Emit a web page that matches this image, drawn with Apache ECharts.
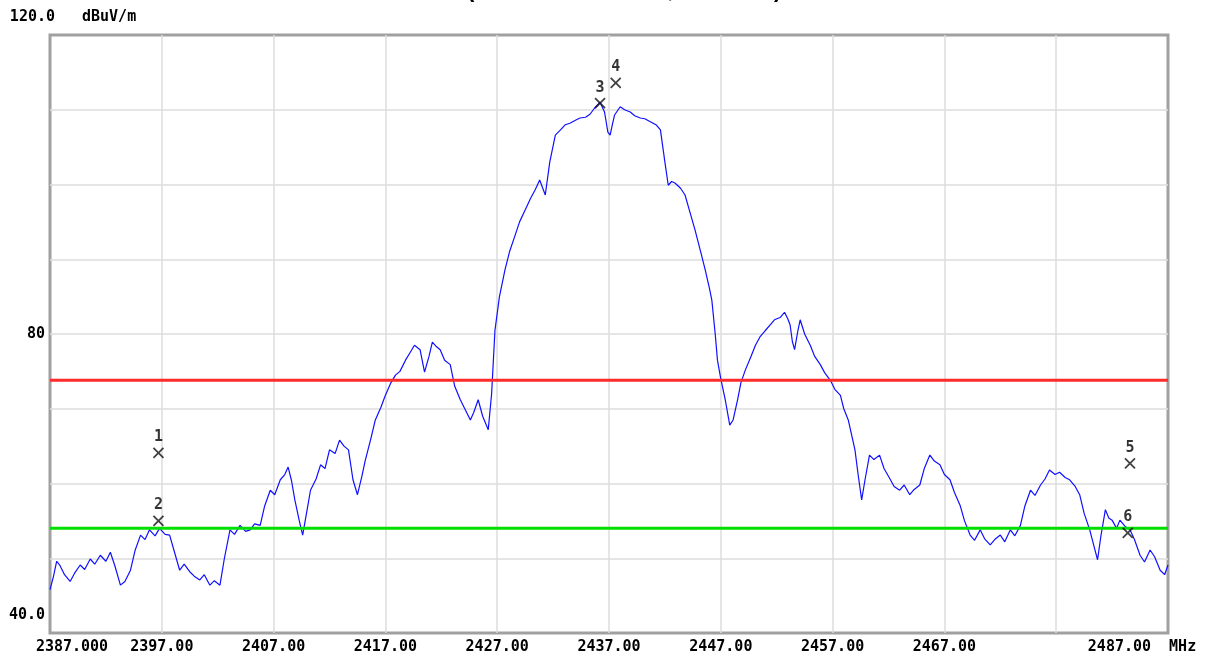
<!DOCTYPE html>
<html>
<head>
<meta charset="utf-8">
<script src="https://cdn.jsdelivr.net/npm/echarts@6/dist/echarts.min.js"></script>
<style>html,body{margin:0;padding:0;background:#fff}#c{width:1224px;height:661px}</style>
</head>
<body>
<div id="c"></div>
<script>
var titleText = '(802.11b Mode CH6, 2437MHz)';
var yUnit = 'dBuV/m';
var xUnit = 'MHz';
var xTickLabels = {2387: '2387.000', 2397: '2397.00', 2407: '2407.00', 2417: '2417.00', 2427: '2427.00', 2437: '2437.00', 2447: '2447.00', 2457: '2457.00', 2467: '2467.00', 2477: '', 2487: '2487.00'};
var yTickLabels = {120: '120.0', 80: '80', 40: '40.0'};

var traceFreq = [2387.0,2387.3,2387.6,2387.9,2388.3,2388.8,2389.2,2389.7,2390.1,2390.6,2391.0,2391.5,2392.0,2392.4,2392.8,2393.3,2393.7,2394.2,2394.6,2395.1,2395.5,2395.9,2396.4,2396.8,2397.3,2397.7,2398.1,2398.6,2399.0,2399.5,2399.9,2400.4,2400.8,2401.3,2401.7,2402.2,2402.6,2403.1,2403.5,2404.0,2404.5,2404.9,2405.3,2405.8,2406.2,2406.7,2407.1,2407.6,2408.0,2408.3,2408.6,2408.9,2409.3,2409.6,2410.0,2410.3,2410.8,2411.2,2411.6,2412.0,2412.5,2412.9,2413.3,2413.7,2414.1,2414.5,2414.9,2415.2,2415.7,2416.1,2416.6,2417.0,2417.5,2417.9,2418.3,2418.8,2419.2,2419.6,2420.1,2420.5,2420.9,2421.2,2421.5,2421.9,2422.3,2422.8,2423.2,2423.7,2424.1,2424.6,2424.9,2425.3,2425.7,2426.2,2426.5,2426.8,2427.2,2427.7,2428.1,2428.6,2429.0,2429.5,2430.0,2430.4,2430.8,2431.3,2431.7,2432.2,2432.6,2433.1,2433.5,2434.0,2434.4,2434.9,2435.3,2435.7,2436.2,2436.6,2436.9,2437.1,2437.3,2437.5,2438.0,2438.4,2438.9,2439.3,2439.8,2440.2,2440.7,2441.2,2441.6,2442.0,2442.3,2442.6,2442.9,2443.4,2443.8,2444.2,2444.7,2445.2,2445.6,2446.0,2446.2,2446.5,2446.7,2447.0,2447.4,2447.8,2448.1,2448.5,2448.8,2449.2,2449.7,2450.1,2450.5,2451.0,2451.4,2451.8,2452.3,2452.7,2453.0,2453.2,2453.4,2453.6,2453.9,2454.1,2454.5,2455.0,2455.4,2455.9,2456.3,2456.8,2457.2,2457.7,2458.0,2458.4,2458.7,2459.0,2459.3,2459.6,2459.9,2460.3,2460.7,2461.2,2461.6,2462.1,2462.5,2463.0,2463.4,2463.9,2464.3,2464.8,2465.2,2465.7,2466.1,2466.6,2467.0,2467.5,2467.9,2468.4,2468.8,2469.3,2469.7,2470.2,2470.6,2471.1,2471.5,2472.0,2472.4,2472.9,2473.3,2473.8,2474.2,2474.7,2475.1,2475.6,2476.0,2476.4,2476.9,2477.3,2477.8,2478.2,2478.7,2479.1,2479.5,2480.0,2480.4,2480.7,2481.0,2481.4,2481.7,2482.0,2482.4,2482.7,2483.2,2483.6,2484.0,2484.5,2484.9,2485.4,2485.8,2486.3,2486.7,2487.0];
var traceLevel = [45.8,47.5,49.6,49.0,47.8,46.9,48.0,49.1,48.5,49.9,49.2,50.4,49.6,50.8,49.0,46.4,46.9,48.4,51.0,53.1,52.5,53.8,53.0,54.0,53.2,53.1,51.0,48.4,49.2,48.2,47.6,47.1,47.8,46.4,47.0,46.4,50.0,53.8,53.2,54.4,53.6,53.8,54.6,54.4,57.0,59.1,58.5,60.5,61.2,62.2,60.4,57.8,55.0,53.1,56.5,59.1,60.6,62.5,62.0,64.5,64.0,65.8,65.0,64.5,60.5,58.5,61.0,63.1,66.0,68.5,70.2,71.8,73.5,74.5,75.0,76.5,77.5,78.5,77.9,74.9,77.0,78.9,78.4,77.9,76.5,75.9,73.0,71.2,70.0,68.5,69.5,71.2,69.0,67.2,72.0,80.5,85.0,88.6,91.0,93.2,95.0,96.6,98.2,99.3,100.6,98.6,103.0,106.6,107.2,108.0,108.2,108.6,108.9,109.0,109.4,110.2,111.0,109.7,107.0,106.6,108.0,109.3,110.4,110.0,109.7,109.2,108.9,108.8,108.4,108.0,107.3,103.0,99.9,100.4,100.2,99.5,98.6,96.5,93.9,91.0,88.6,86.0,84.5,80.0,76.5,74.0,71.2,67.8,68.5,71.2,73.5,75.2,77.0,78.5,79.6,80.5,81.2,81.9,82.2,82.9,82.0,81.2,79.0,77.9,80.5,81.9,80.0,78.5,77.0,75.9,74.8,73.8,72.6,71.8,70.0,68.5,66.5,64.5,61.0,57.8,60.5,63.8,63.2,63.8,62.0,60.7,59.6,59.1,59.8,58.5,59.2,59.8,62.0,63.8,63.0,62.5,61.2,60.5,58.8,57.1,55.0,53.1,52.4,53.8,52.6,51.8,52.5,53.1,52.2,53.8,53.0,54.4,57.0,59.1,58.4,59.8,60.6,61.8,61.2,61.5,60.8,60.5,59.6,58.5,56.0,53.8,51.5,49.8,53.0,56.5,55.4,55.1,54.0,55.1,54.2,53.8,52.5,50.4,49.5,51.1,50.2,48.4,47.8,49.1];

var limitRed = 73.8;
var limitGreen = 54.0;

var markerNames = ['1', '2', '3', '4', '5', '6'];
var markerFreq = [2396.7, 2396.7, 2436.2, 2437.6, 2483.6, 2483.4];
var markerLevel = [64.1, 55.0, 110.9, 113.6, 62.7, 53.4];

var xMin = 2387, xMax = 2487;

var font = '"DejaVu Sans Mono", "Liberation Mono", monospace';
var fs = 15;

var chart = echarts.init(document.getElementById('c'), null, {renderer: 'canvas'});
chart.setOption({
  animation: false,
  backgroundColor: '#ffffff',
  title: {
    text: titleText,
    left: 462,
    top: -25,
    textStyle: {fontFamily: 'Liberation Sans, Arial, sans-serif', fontWeight: 'bold', fontSize: 22, color: '#000'}
  },
  grid: {left: 50, right: 56, top: 35, bottom: 28, show: true, borderColor: '#a0a0a0', borderWidth: 3, backgroundColor: '#ffffff'},
  xAxis: {
    type: 'value', min: xMin, max: xMax, interval: 10,
    axisLine: {show: false}, axisTick: {show: false},
    splitLine: {show: true, showMinLine: false, showMaxLine: false, lineStyle: {color: '#dcdcdc', width: 1.5}},
    axisLabel: {
      margin: 7, showMinLabel: true, showMaxLabel: true,
      fontFamily: font, fontWeight: 'bold', fontSize: fs, color: '#000',
      formatter: function (v) {
        var t = xTickLabels[Math.round(v)];
        if (t === undefined || t === '') return '';
        if (Math.round(v) === xMin) return '{f|' + t + '}';
        if (Math.round(v) === xMax) return '{l|' + t + '  ' + xUnit + '}';
        return t;
      },
      rich: {
        f: {fontFamily: font, fontWeight: 'bold', fontSize: fs, color: '#000', padding: [0, 0, 0, 44]},
        l: {fontFamily: font, fontWeight: 'bold', fontSize: fs, color: '#000', padding: [0, 52, 0, 0]}
      }
    }
  },
  yAxis: {
    type: 'value', min: 40, max: 120, interval: 10,
    name: yUnit, nameLocation: 'end', nameGap: 10,
    nameTextStyle: {fontFamily: font, fontWeight: 'bold', fontSize: fs, color: '#000', align: 'left', verticalAlign: 'bottom', padding: [0, 0, 0, 32]},
    axisLine: {show: false}, axisTick: {show: false},
    splitLine: {show: true, showMinLine: false, showMaxLine: false, lineStyle: {color: '#dcdcdc', width: 1.5}},
    axisLabel: {
      margin: -5, showMinLabel: true, showMaxLabel: true,
      fontFamily: font, fontWeight: 'bold', fontSize: fs, color: '#000',
      formatter: function (v) {
        var t = yTickLabels[Math.round(v)];
        if (t === undefined) return '';
        if (Math.round(v) === 120) return '{a|' + t + '}';
        if (Math.round(v) === 40) return '{c|' + t + '}';
        return '{b|' + t + '}';
      },
      rich: {
        a: {fontFamily: font, fontWeight: 'bold', fontSize: fs, color: '#000', padding: [0, 0, 36, 0]},
        b: {fontFamily: font, fontWeight: 'bold', fontSize: fs, color: '#000', padding: [0, 10, 0, 0]},
        c: {fontFamily: font, fontWeight: 'bold', fontSize: fs, color: '#000', padding: [0, 10, 36, 0]}
      }
    }
  },
  series: [
    {
      type: 'line', name: 'trace', showSymbol: false, symbol: 'none',
      data: traceFreq.map(function (f, i) { return [f, traceLevel[i]]; }),
      lineStyle: {color: '#1010ff', width: 1.2}, z: 3
    },
    {
      type: 'line', name: 'limit1', showSymbol: false, symbol: 'none',
      data: [[xMin, limitRed], [xMax, limitRed]],
      lineStyle: {color: '#ff2a2a', width: 3}, z: 4
    },
    {
      type: 'line', name: 'limit2', showSymbol: false, symbol: 'none',
      data: [[xMin, limitGreen], [xMax, limitGreen]],
      lineStyle: {color: '#00e000', width: 3}, z: 4
    },
    {
      type: 'scatter', name: 'markers',
      symbol: 'path://M0,0L10,10M10,0L0,10', symbolSize: 10,
      itemStyle: {color: 'rgba(0,0,0,0)', borderColor: '#111', borderWidth: 1.8},
      data: markerFreq.map(function (f, i) { return {value: [f, markerLevel[i]], name: markerNames[i]}; }),
      label: {show: true, position: 'top', distance: 2, formatter: '{b}', fontFamily: font, fontWeight: 'bold', fontSize: 15, color: '#000'},
      z: 5
    }
  ]
});
</script>
</body>
</html>
